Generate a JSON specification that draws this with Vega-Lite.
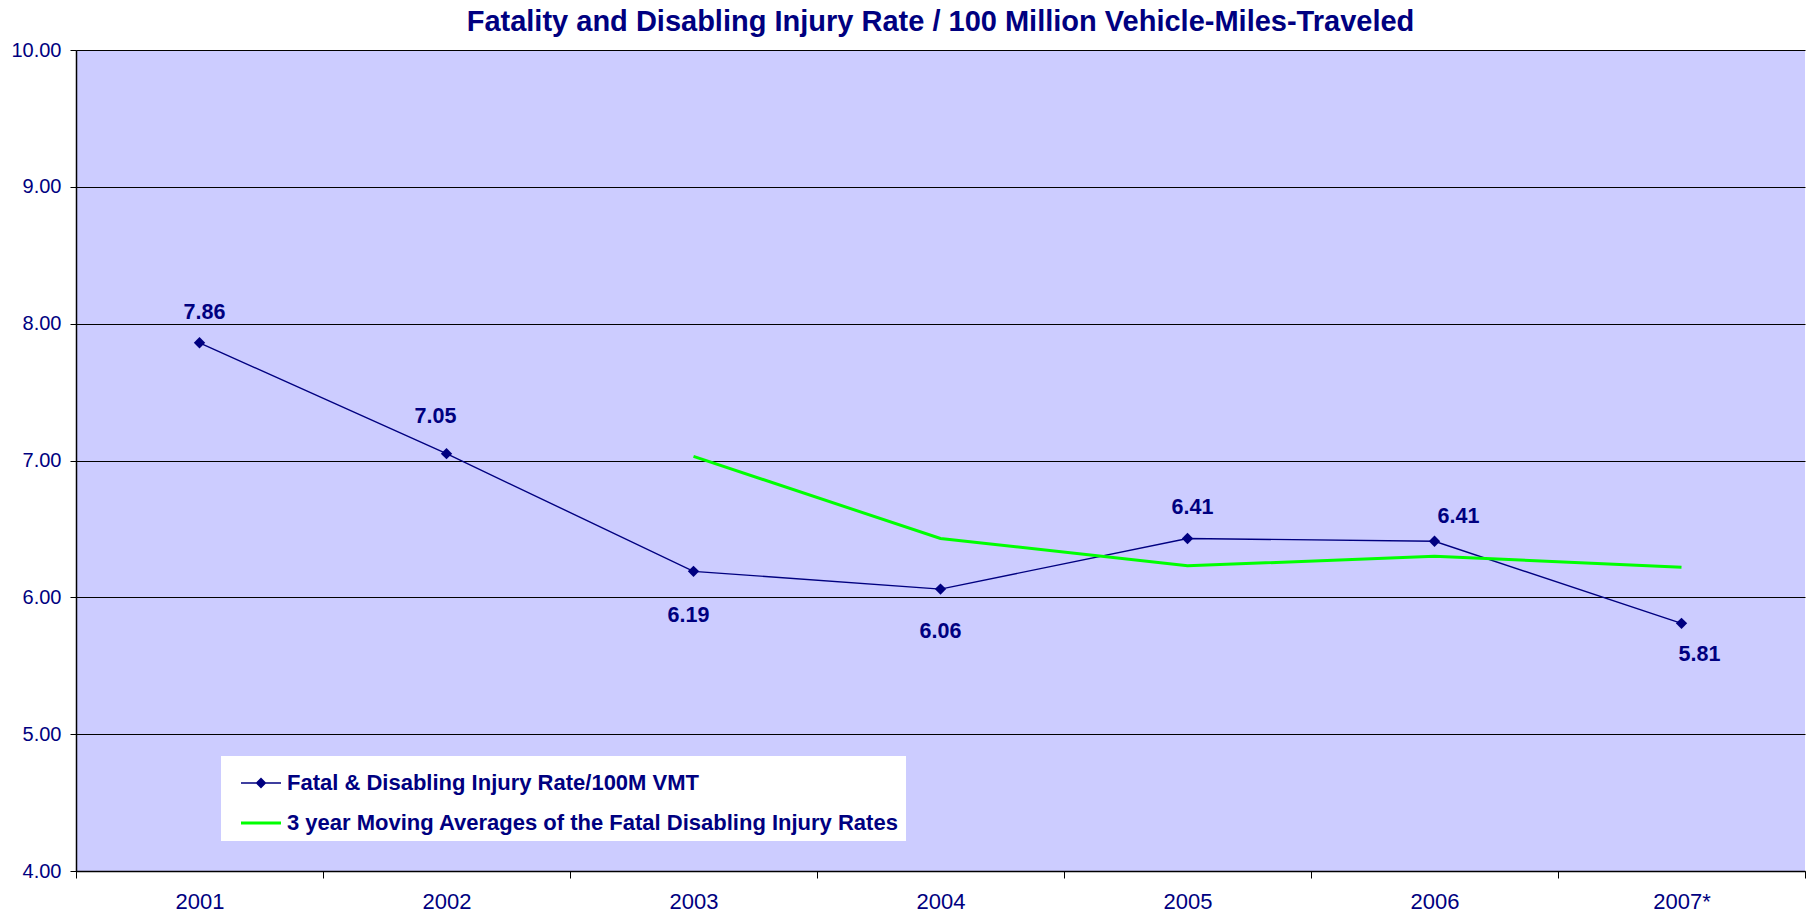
{
  "$schema": "https://vega.github.io/schema/vega-lite/v6.json",
  "width": 1729,
  "height": 821,
  "autosize": {"type": "none"},
  "padding": {"left": 76, "top": 50, "right": 6, "bottom": 47},
  "background": "white",
  "view": {"fill": "#CCCCFF", "stroke": null},
  "title": {
    "text": "Fatality and Disabling Injury Rate / 100 Million Vehicle-Miles-Traveled",
    "font": "Liberation Sans",
    "fontSize": 29,
    "fontWeight": "bold",
    "color": "#000080",
    "anchor": "middle",
    "baseline": "alphabetic",
    "offset": -20
  },
  "config": {
    "view": {"fill": "#CCCCFF", "stroke": null},
    "font": "Liberation Sans"
  },
  "datasets": {
    "rate": [
      {"year": "2001", "value": 7.86, "label": "7.86"},
      {"year": "2002", "value": 7.05, "label": "7.05"},
      {"year": "2003", "value": 6.19, "label": "6.19"},
      {"year": "2004", "value": 6.06, "label": "6.06"},
      {"year": "2005", "value": 6.43, "label": "6.41"},
      {"year": "2006", "value": 6.41, "label": "6.41"},
      {"year": "2007*", "value": 5.81, "label": "5.81"}
    ],
    "avg": [
      {"year": "2003", "value": 7.03},
      {"year": "2004", "value": 6.43},
      {"year": "2005", "value": 6.23},
      {"year": "2006", "value": 6.30},
      {"year": "2007*", "value": 6.22}
    ],
    "legend": [
      {"series": "Fatal & Disabling Injury Rate/100M VMT"},
      {"series": "3 year Moving Averages of the Fatal Disabling Injury Rates"}
    ]
  },
  "layer": [
    {
      "data": {"name": "rate"},
      "mark": {"type": "line", "color": "#000080", "strokeWidth": 1.4},
      "encoding": {
        "x": {
          "field": "year", "type": "ordinal", "bandPosition": 0.5,
          "scale": {"type": "band", "domain": ["2001", "2002", "2003", "2004", "2005", "2006", "2007*"], "paddingInner": 0, "paddingOuter": 0},
          "axis": {
            "title": null, "tickBand": "extent", "grid": false,
            "domainColor": "#000000", "domainWidth": 1.5,
            "tickColor": "#000000", "tickSize": 7, "tickWidth": 1,
            "labelColor": "#000080", "labelFontSize": 22, "labelFont": "Liberation Sans",
            "labelPadding": 13, "labelAngle": 0
          }
        },
        "y": {
          "field": "value", "type": "quantitative",
          "scale": {"domain": [4, 10], "nice": false, "zero": false},
          "axis": {
            "title": null, "values": [4, 5, 6, 7, 8, 9, 10], "format": ".2f",
            "grid": true, "gridColor": "#000000", "gridWidth": 1,
            "domainColor": "#000000", "domainWidth": 1.5,
            "tickColor": "#000000", "tickSize": 6, "tickWidth": 1,
            "labelColor": "#000080", "labelFontSize": 20, "labelFont": "Liberation Sans",
            "labelPadding": 9
          }
        }
      }
    },
    {
      "data": {"name": "rate"},
      "mark": {"type": "point", "shape": "diamond", "filled": true, "color": "#000080", "size": 130, "opacity": 1},
      "encoding": {
        "x": {"field": "year", "type": "ordinal", "bandPosition": 0.5},
        "y": {"field": "value", "type": "quantitative"}
      }
    },
    {
      "data": {"name": "avg"},
      "mark": {"type": "line", "color": "#00FF00", "strokeWidth": 3},
      "encoding": {
        "x": {"field": "year", "type": "ordinal", "bandPosition": 0.5},
        "y": {"field": "value", "type": "quantitative"}
      }
    },
    {
      "data": {"name": "rate"},
      "transform": [{"filter": "datum.year == '2001' || datum.year == '2005'"}],
      "mark": {"type": "text", "font": "Liberation Sans", "fontSize": 21.5, "fontWeight": "bold", "color": "#000080", "dx": 5, "dy": -30},
      "encoding": {
        "x": {"field": "year", "type": "ordinal", "bandPosition": 0.5},
        "y": {"field": "value", "type": "quantitative"},
        "text": {"field": "label"}
      }
    },
    {
      "data": {"name": "rate"},
      "transform": [{"filter": "datum.year == '2002'"}],
      "mark": {"type": "text", "font": "Liberation Sans", "fontSize": 21.5, "fontWeight": "bold", "color": "#000080", "dx": -11, "dy": -37},
      "encoding": {
        "x": {"field": "year", "type": "ordinal", "bandPosition": 0.5},
        "y": {"field": "value", "type": "quantitative"},
        "text": {"field": "label"}
      }
    },
    {
      "data": {"name": "rate"},
      "transform": [{"filter": "datum.year == '2003'"}],
      "mark": {"type": "text", "font": "Liberation Sans", "fontSize": 21.5, "fontWeight": "bold", "color": "#000080", "dx": -5, "dy": 45},
      "encoding": {
        "x": {"field": "year", "type": "ordinal", "bandPosition": 0.5},
        "y": {"field": "value", "type": "quantitative"},
        "text": {"field": "label"}
      }
    },
    {
      "data": {"name": "rate"},
      "transform": [{"filter": "datum.year == '2004'"}],
      "mark": {"type": "text", "font": "Liberation Sans", "fontSize": 21.5, "fontWeight": "bold", "color": "#000080", "dx": 0, "dy": 43},
      "encoding": {
        "x": {"field": "year", "type": "ordinal", "bandPosition": 0.5},
        "y": {"field": "value", "type": "quantitative"},
        "text": {"field": "label"}
      }
    },
    {
      "data": {"name": "rate"},
      "transform": [{"filter": "datum.year == '2006'"}],
      "mark": {"type": "text", "font": "Liberation Sans", "fontSize": 21.5, "fontWeight": "bold", "color": "#000080", "dx": 24, "dy": -24},
      "encoding": {
        "x": {"field": "year", "type": "ordinal", "bandPosition": 0.5},
        "y": {"field": "value", "type": "quantitative"},
        "text": {"field": "label"}
      }
    },
    {
      "data": {"name": "rate"},
      "transform": [{"filter": "datum.year == '2007*'"}],
      "mark": {"type": "text", "font": "Liberation Sans", "fontSize": 21.5, "fontWeight": "bold", "color": "#000080", "dx": 18, "dy": 32},
      "encoding": {
        "x": {"field": "year", "type": "ordinal", "bandPosition": 0.5},
        "y": {"field": "value", "type": "quantitative"},
        "text": {"field": "label"}
      }
    },
    {
      "data": {"name": "legend"},
      "transform": [{"filter": "false"}],
      "mark": {"type": "point", "filled": true},
      "encoding": {
        "color": {
          "field": "series", "type": "nominal",
          "scale": {"domain": ["Fatal & Disabling Injury Rate/100M VMT", "3 year Moving Averages of the Fatal Disabling Injury Rates"], "range": ["#000080", "#00FF00"]},
          "legend": {
            "title": null, "orient": "none", "legendX": 145, "legendY": 706,
            "fillColor": "white", "padding": 7, "symbolOffset": 13,
            "symbolSize": 1600, "symbolStrokeWidth": 0, "symbolOpacity": 1,
            "labelFont": "Liberation Sans", "labelFontSize": 22, "labelFontWeight": "bold",
            "labelColor": "#000080", "labelOffset": 6, "rowPadding": 9, "labelLimit": 900
          }
        },
        "shape": {
          "field": "series", "type": "nominal",
          "scale": {"domain": ["Fatal & Disabling Injury Rate/100M VMT", "3 year Moving Averages of the Fatal Disabling Injury Rates"], "range": ["M-1,-0.035H1V0.035H-1Z M0,-0.27L0.27,0L0,0.27L-0.27,0Z", "M-1,-0.075H1V0.075H-1Z"]},
          "legend": {
            "title": null, "orient": "none", "legendX": 145, "legendY": 706,
            "fillColor": "white", "padding": 7, "symbolOffset": 13,
            "symbolSize": 1600, "symbolStrokeWidth": 0, "symbolOpacity": 1,
            "labelFont": "Liberation Sans", "labelFontSize": 22, "labelFontWeight": "bold",
            "labelColor": "#000080", "labelOffset": 6, "rowPadding": 9, "labelLimit": 900
          }
        }
      }
    }
  ]
}
